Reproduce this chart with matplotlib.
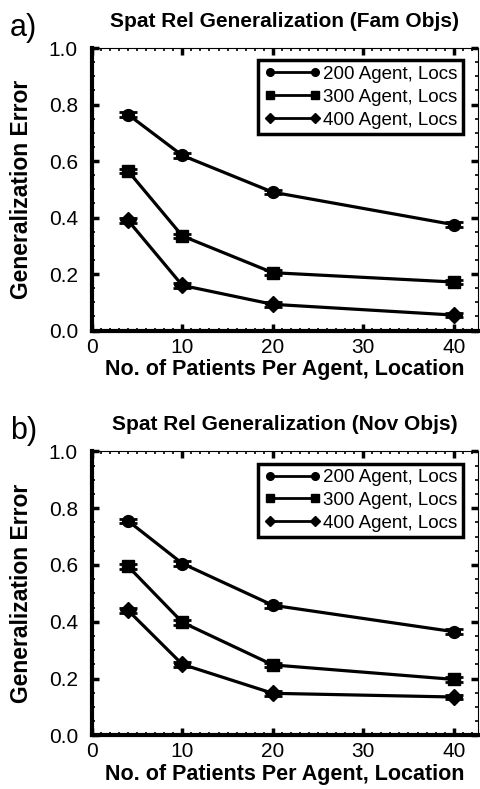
import numpy as np
import matplotlib.pyplot as plt
from matplotlib.lines import Line2D
from matplotlib.ticker import MultipleLocator

plt.rcParams['font.family'] = ['Liberation Sans', 'DejaVu Sans']

# DATA
patients = [4, 10, 20, 40]
labels = ['200 Agent, Locs', '300 Agent, Locs', '400 Agent, Locs']
markers = ['o', 's', 'D']

fam_200 = [0.765, 0.620, 0.490, 0.375]
fam_300 = [0.565, 0.335, 0.205, 0.172]
fam_400 = [0.390, 0.160, 0.093, 0.055]

nov_200 = [0.755, 0.605, 0.458, 0.365]
nov_300 = [0.595, 0.398, 0.248, 0.197]
nov_400 = [0.440, 0.250, 0.148, 0.135]

err = 0.008

fig = plt.figure(figsize=(4.81, 7.89), dpi=100)
ax_a = fig.add_axes([0.191, 0.581, 0.803, 0.358])
ax_b = fig.add_axes([0.191, 0.068, 0.803, 0.360])


def draw_panel(ax, series, title, letter):
    handles = []
    for vals, lab, m in zip(series, labels, markers):
        ms = 8 if m == 'D' else 8.5
        ax.errorbar(patients, vals, yerr=err, color='black', lw=2.3,
                    marker=m, ms=ms, capsize=6.5, capthick=2, elinewidth=2)
        handles.append(Line2D([0], [0], color='black', lw=2, marker=m,
                              ms=5.5, label=lab))
    ax.set_xlim(0, 42.7)
    ax.set_ylim(0, 1.0)
    ax.xaxis.set_major_locator(MultipleLocator(10))
    ax.xaxis.set_minor_locator(MultipleLocator(1))
    ax.yaxis.set_minor_locator(MultipleLocator(0.05))
    ax.set_yticks(np.arange(0, 1.01, 0.2))
    ax.set_yticklabels(['%.1f' % v for v in np.arange(0, 1.01, 0.2)])
    ax.tick_params(which='both', direction='in', top=True, right=True,
                   labelsize=15)
    ax.tick_params(axis='x', which='major', pad=5)
    ax.tick_params(axis='y', which='major', pad=10)
    ax.tick_params(which='major', length=5, width=2.5)
    ax.tick_params(which='minor', length=2.5, width=1.2)
    for s in ['left', 'bottom']:
        ax.spines[s].set_linewidth(3)
    for s in ['top', 'right']:
        ax.spines[s].set_linewidth(0.8)
    ax.set_title(title, fontsize=15, fontweight='bold', pad=15)
    ax.set_xlabel('No. of Patients Per Agent, Location', fontsize=15.5,
                  fontweight='bold', labelpad=2)
    ax.set_ylabel('Generalization Error', fontsize=16.5, fontweight='bold',
                  labelpad=11)
    ax.text(-0.212, 1.07, letter, transform=ax.transAxes, fontsize=22,
            va='center', ha='left')
    leg = ax.legend(handles=handles, loc='upper right',
                    bbox_to_anchor=(0.961, 0.957),
                    numpoints=2, fontsize=13.5, frameon=True, fancybox=False,
                    handlelength=3.0, handletextpad=0.15, borderpad=0.3,
                    labelspacing=0.3, borderaxespad=0)
    leg.get_frame().set_edgecolor('black')
    leg.get_frame().set_linewidth(2.5)
    leg.get_frame().set_alpha(1)


draw_panel(ax_a, [fam_200, fam_300, fam_400],
           'Spat Rel Generalization (Fam Objs)', 'a)')
draw_panel(ax_b, [nov_200, nov_300, nov_400],
           'Spat Rel Generalization (Nov Objs)', 'b)')

fig.savefig('out.png', dpi=100)
